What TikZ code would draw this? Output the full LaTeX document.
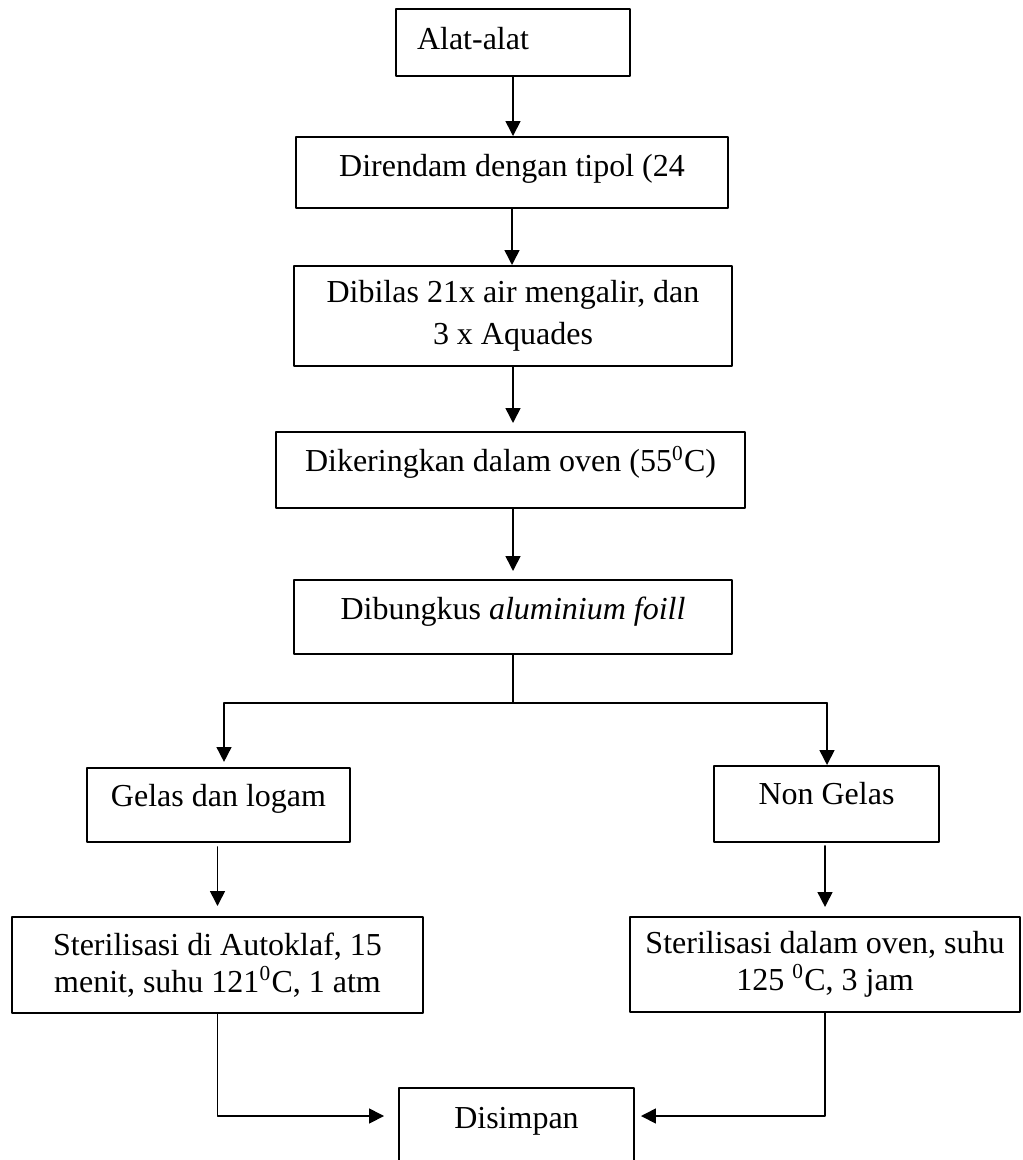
\documentclass[tikz,border=0pt]{standalone}
\usepackage{fontspec}
\setmainfont{Liberation Serif}
\usepackage{tikz}
\usetikzlibrary{arrows.meta}
\tikzset{kotak/.style={draw, rectangle, line width=0.75pt, inner ysep=0pt, align=center, font=\fontsize{12}{15.6}\selectfont}}
\tikzset{rapat/.style={font=\fontsize{12}{13.7}\selectfont}}
\tikzset{lift/.style={text height=9.6pt, text depth=#1}}

\begin{document}
\begin{tikzpicture}[line cap=round,line join=round,>={Triangle[length=5.6pt,width=5.6pt]},x=0.375pt,y=-0.375pt]
\useasboundingbox (0,0) rectangle (1022,1160);

\draw[]
 (513,42.5) node[kotak, lift=4.5pt, minimum width=87.75pt, minimum height=25.1pt, text width=72pt, inner xsep=7.9pt, align=left] (1) {Alat-alat}
 (512,172.5) node[kotak, lift=6.4pt, minimum width=162pt, minimum height=26.6pt] (2) {Direndam dengan tipol (24}
 (513,316) node[kotak, minimum width=164.25pt, minimum height=37.5pt] (3) {Dibilas 21x air mengalir, dan\\ 3 x Aquades}
 (510.5,470) node[kotak, lift=8.1pt, minimum width=175.9pt, minimum height=28.5pt] (4) {Dikeringkan dalam oven (55\textsuperscript{0}C)}
 (513,617) node[kotak, lift=8.1pt, minimum width=164.25pt, minimum height=27.75pt] (5) {Dibungkus \textit{aluminium foill}}
 (218.5,805) node[kotak, lift=8.3pt, minimum width=98.6pt, minimum height=27.75pt] (6) {Gelas dan logam}
 (826.5,804) node[kotak, lift=8.9pt, minimum width=84.4pt, minimum height=28.5pt] (7) {Non Gelas}
 (217.5,965) node[kotak, rapat, minimum width=154.1pt, minimum height=36pt] (8) {Sterilisasi di Autoklaf, 15\\ menit, suhu 121\textsuperscript{0}C, 1 atm}
 (825,964.5) node[kotak, rapat, minimum width=146.25pt, minimum height=35.6pt] (9) {Sterilisasi dalam oven, suhu\\ 125 \textsuperscript{0}C, 3 jam}
 (516.5,1128) node[kotak, lift=9.6pt, minimum width=88.1pt, minimum height=30pt] (10) {Disimpan};

\coordinate (5a) at (513,703);
\coordinate (5b) at (224,703);
\coordinate (5c) at (827,703);

\draw[line width=0.6pt]
 (1.south) edge[->] (1.south |- 2.north)
 (2.south) edge[->] (2.south |- 3.north)
 (3.south) edge[->, shorten >=3pt] (3.south |- 4.north)
 (4.south -| 3.south) edge[->, shorten >=3pt] (3.south |- 5.north)
 (5.south) edge[] (5a)
 (5b) edge[] (5c)
 (5b) edge[->, shorten >=1.9pt] (5b |- 6.north)
 (5c) edge[->] (5c |- 7.north)
 (8.north |- 6.south) edge[->, shorten <=1.5pt, shorten >=3.75pt] (8.north)
 (9.north |- 7.south) edge[->, shorten <=1.1pt, shorten >=3.4pt] (9.north);
\draw[line width=0.6pt, ->, shorten >=5.25pt] (8.south) |- ([yshift=4.5pt]10.west);
\draw[line width=0.6pt, ->, shorten >=2.25pt] (9.south) |- ([yshift=4.5pt]10.east);

\end{tikzpicture}
\end{document}
